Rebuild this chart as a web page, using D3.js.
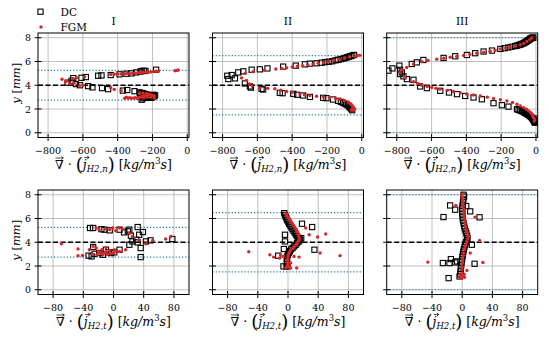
<!DOCTYPE html>
<html>
<head>
<meta charset="utf-8">
<script src="https://cdn.jsdelivr.net/npm/d3@7"></script>
<style>
  body { margin: 0; background: #fff; }
  svg { display: block; }
  text { font-family: "DejaVu Serif", "Liberation Serif", serif; fill: #000; }
</style>
</head>
<body>
<svg id="chart" width="549" height="339"></svg>
<script>
// ---- data ----
const panelTitles = ['I', 'II', 'III'];
const topTicks = [-800, -600, -400, -200, 0];
const bottomTicks = [-80, -40, 0, 40, 80];
const yTicks = [0, 2, 4, 6, 8];
const centerLine = 4;
const boundLines = [[5.25, 2.75], [6.5, 1.5], [8, 0]];

// normal component, zone I
const dcNormalI = [[-688,4.22],[-665,4.38],[-655,4.6],[-608,4.63],[-583,4.69],[-512,4.8],[-493,4.83],[-440,4.86],[-389,4.92],[-350,4.97],[-320,5.0],[-293,5.08],[-270,5.15],[-262,5.2],[-250,5.22],[-240,5.2],[-179,5.31],
  [-640,4.1],[-617,4.0],[-570,3.93],[-545,3.82],[-490,3.76],[-455,3.67],[-370,3.55],[-345,3.6],[-303,3.5],
  [-275,3.4],[-268,3.3],[-260,3.35],[-250,3.3],[-240,3.25],[-230,3.2],[-220,3.15],[-210,3.1],[-200,3.12],[-195,3.05],[-190,3.1],[-262,2.78],[-255,2.9],[-245,3.0],[-235,2.95],[-225,2.95],[-215,3.0],[-205,2.95],[-270,3.05],[-260,3.15],[-195,3.2],[-185,3.15]];
const fgmNormalI = [[-720,4.5],[-693,4.35],[-660,4.55],[-636,4.64],[-590,4.72],[-440,4.9],[-420,4.93],[-400,4.95],[-380,4.95],[-360,4.97],[-345,5.0],[-330,4.98],[-315,5.0],[-300,5.02],[-285,5.05],[-270,5.05],[-255,5.08],[-240,5.1],[-225,5.12],[-210,5.12],[-195,5.15],[-180,5.18],[-165,5.2],[-70,5.22],[-60,5.25],[-52,5.28],
  [-700,4.3],[-675,4.12],[-650,4.2],[-620,3.95],[-600,4.0],[-440,3.8],[-420,3.65],[-380,3.55],[-360,2.9],[-350,3.0],[-340,2.9],[-330,2.95],[-320,2.9],[-310,2.92],[-300,2.95],[-290,2.9],[-280,2.95],[-270,3.0],[-260,3.05],[-250,3.1],[-240,3.15],[-230,3.2],[-220,3.25],[-210,3.2],[-200,3.15],[-190,3.1],[-250,2.95],[-230,3.0],[-210,3.0],[-190,2.95],[-275,3.3],[-255,3.35],[-235,3.3]];

// normal component, zone II
const dcNormalII = [[-773,4.8],[-767,4.52],[-748,4.86],[-729,4.58],[-710,5.08],[-681,5.17],[-633,5.31],[-586,5.34],[-542,5.42],[-452,5.57],[-379,5.65],[-327,5.76],[-298,5.82],[-260,5.85],[-230,5.9],[-210,5.95],[-190,5.98],[-170,6.02],[-150,6.1],[-135,6.15],[-120,6.2],[-105,6.25],[-95,6.3],[-85,6.35],[-75,6.4],[-65,6.45],[-55,6.5],[-45,6.55],
  [-672,4.15],[-643,3.9],[-637,3.8],[-576,3.7],[-567,3.64],[-471,3.36],[-455,3.33],[-394,3.28],[-371,3.2],[-337,3.14],[-298,3.02],[-222,2.94],[-203,2.91],[-165,2.8],[-136,2.68],[-120,2.6],[-108,2.52],[-98,2.45],[-88,2.38],[-80,2.3],[-72,2.2],[-66,2.1],[-60,2.0],[-55,1.9]];
const fgmNormalII = [[-691,4.62],[-670,5.0],[-624,5.14],[-560,5.26],[-494,5.37],[-460,5.42],[-432,5.48],[-400,5.55],[-370,5.6],[-340,5.65],[-310,5.72],[-280,5.78],[-250,5.85],[-220,5.92],[-190,6.0],[-160,6.1],[-130,6.2],[-100,6.3],[-70,6.38],[-40,6.45],[-25,6.5],[-11,6.52],
  [-662,4.4],[-647,4.12],[-630,3.95],[-586,3.76],[-540,3.74],[-500,3.7],[-465,3.58],[-432,3.47],[-400,3.4],[-356,3.27],[-330,3.2],[-298,3.13],[-260,3.08],[-222,3.02],[-184,2.92],[-150,2.86],[-126,2.82],[-100,2.72],[-78,2.6],[-65,2.45],[-59,2.35],[-52,2.2],[-48,2.1],[-42,1.98],[-50,1.9],[-60,1.92]];

// normal component, zone III
const dcNormalIII = [[-848,5.23],[-825,5.42],[-785,5.65],[-781,5.3],[-771,5.08],[-714,5.79],[-685,5.93],[-647,6.13],[-531,6.3],[-464,6.44],[-397,6.55],[-349,6.7],[-301,6.84],[-253,6.92],[-205,7.06],[-180,7.12],[-160,7.18],[-140,7.24],[-120,7.3],[-100,7.38],[-85,7.45],[-70,7.55],[-58,7.65],[-48,7.75],[-38,7.85],[-30,7.95],[-20,8.02],
  [-110,7.34],[-92,7.42],[-78,7.5],[-64,7.6],[-53,7.7],[-43,7.8],[-34,7.9],[-25,7.98],[-15,8.0],
  [-781,4.94],[-762,4.75],[-742,4.52],[-704,4.46],[-666,3.9],[-627,3.76],[-550,3.53],[-500,3.39],[-454,3.25],[-407,3.1],[-359,2.97],[-311,2.82],[-244,2.49],[-196,2.32],[-158,2.2],[-109,1.98],[-90,1.88],[-75,1.78],[-62,1.68],[-50,1.58],[-40,1.48],[-30,1.35],[-22,1.22],[-15,1.1],[-10,0.98],[-6,0.88],
  [-100,1.92],[-82,1.82],[-68,1.72],[-56,1.62],[-45,1.52],[-35,1.42],[-26,1.3],[-18,1.16],[-12,1.04],[-8,0.93],[-5,0.85],[-4,1.0],[-3,1.2]];
const fgmNormalIII = [[-771,5.3],[-743,5.5],[-704,5.79],[-656,5.99],[-620,6.08],[-570,6.2],[-530,6.28],[-493,6.36],[-455,6.43],[-416,6.5],[-380,6.6],[-340,6.7],[-300,6.78],[-263,6.86],[-235,6.95],[-205,7.06],[-175,7.13],[-148,7.2],[-120,7.3],[-90,7.4],[-70,7.52],[-52,7.68],[-35,7.85],[-23,8.0],
  [-781,5.08],[-752,4.66],[-704,4.29],[-680,4.15],[-656,4.0],[-625,3.9],[-599,3.81],[-575,3.74],[-551,3.67],[-510,3.57],[-474,3.47],[-435,3.36],[-397,3.25],[-360,3.18],[-320,3.1],[-280,3.0],[-244,2.88],[-205,2.78],[-167,2.68],[-135,2.55],[-109,2.4],[-90,2.26],[-71,2.12],[-55,1.98],[-42,1.84],[-32,1.7],[-23,1.55],[-18,1.4],[-13,1.27],[-8,1.1],[-10,0.99]];

// tangential component, zone I
const dcTangI = [[-31,5.2],[-27,5.2],[-16,5.1],[-12,5.06],[-5,5.0],[8,5.06],[14,4.83],[19,4.92],[21,5.06],[32,5.28],[34,4.63],[39,4.86],[23,4.55],[30,4.21],[25,4.07],[32,3.99],[43,4.07],[49,4.16],[78,4.27],[36,3.51],[36,2.75],[21,3.79],[8,3.37],
  [-33,2.87],[-29,2.81],[-25,3.03],[-19,3.09],[-10,3.37],[-7,3.15],[-3,3.09],[1,3.15],[-14,2.95],[-27,3.6]];
const fgmTangI = [[-69,3.88],[-47,3.43],[-47,2.87],[-41,2.89],[-32,3.37],[-27,3.65],[-23,3.51],[-19,3.09],[-14,2.95],[-10,3.23],[-5,3.31],[1,3.37],[8,3.23],[16,3.37],
  [-23,5.2],[-10,5.11],[3,4.97],[-1,5.2],[12,5.11],[21,4.78],[25,4.49],[34,4.16],[43,3.88],[52,4.16],[69,4.27],[76,4.49],[-5,5.06],[8,5.2],[-19,5.06],
  [-28,3.0],[-22,2.95],[-16,3.05],[-12,3.1],[-8,3.0],[-4,3.05],[0,3.1],[4,3.2],[-20,3.25],[-15,3.4],[-10,3.55]];

// tangential component, zone II
const dcTangII = [[-5,6.45],[-4,6.3],[-3,6.15],[-2,6.0],[-1,5.85],[0.5,5.7],[1.5,5.55],[3,5.4],[4.5,5.25],[6,5.1],[7.5,4.95],[9,4.8],[10.5,4.65],[12,4.5],[13.5,4.38],[15,4.28],[16,4.18],[14,4.05],[12,3.92],[10,3.78],[8,3.65],[6,3.52],[4,3.4],[2.5,3.25],[1,3.1],[0,2.95],[-1,2.8],[-1.5,2.6],[-1.5,2.4],[-1,2.2],[-1,2.0],[-2,1.95],[-6,1.97],
  [-4,4.07],[-4,4.63],[-5.5,3.43],[-13,2.87],[18.5,5.56],[32,5.28],[35,3.37],[17.5,4.35]];
const fgmTangII = [[-3,6.45],[-2,6.32],[-1,6.18],[0.5,6.05],[2,5.9],[3.5,5.75],[5,5.62],[6.5,5.48],[8,5.34],[9.5,5.2],[11,5.06],[12,4.92],[13,4.78],[14,4.64],[14.5,4.49],[15,4.33],[14.5,4.16],[13,4.02],[11.5,3.88],[10,3.74],[8,3.6],[6,3.48],[4,3.37],[2.5,3.23],[1.5,3.09],[0.5,2.9],[0,2.7],[-0.5,2.5],[-1,2.3],[-0.5,2.1],[0,1.97],[2,1.9],[3.5,1.83],
  [-3,1.83],[11.5,1.83],[3.5,2.25],[8,2.81],[14.6,2.75],[-52,3.2],[-24,2.95],[-19,2.75],[-10,2.95],[-11,2.67],[-6,2.81],[23.5,5.2],[28,4.63],[39,4.44],[50,4.69],[42.5,3.09],[69,2.87]];

// tangential component, zone III
const dcTangIII = [[1.8,8.0],[2.5,7.85],[1.5,7.6],[1,7.35],[0.5,7.1],[0,6.85],[0,6.6],[0.3,6.35],[0.6,6.1],[1,5.85],[1.8,5.6],[2.7,5.35],[3.5,5.15],[4.5,4.95],[5.5,4.75],[6.5,4.55],[7,4.35],[6.2,4.2],[5,4.0],[4,3.8],[3,3.6],[2.2,3.4],[1.5,3.2],[0.9,3.0],[0.4,2.8],[-0.2,2.55],[-0.8,2.3],[-1.3,2.05],[-1.8,1.8],[-2.2,1.55],[-2.6,1.3],[-3.5,1.12],
  [-16,7.1],[-9.3,6.74],[5.3,7.05],[10.6,6.6],[-24.8,6.12],[23,6.1],[12.8,3.79],[-25.6,2.25],[-16.8,2.25],[-15,2.58],[-7,2.39],[-9.3,2.3],[16.4,2.19],[-18,0.98]];
const fgmTangIII = [[-0.4,8.0],[0,7.8],[0.5,7.55],[1,7.3],[1.5,7.05],[2,6.8],[2.5,6.55],[2.7,6.3],[3,6.05],[3.5,5.8],[4,5.55],[4.7,5.3],[5.3,5.06],[6.2,4.85],[7.2,4.65],[8.4,4.49],[7.5,4.28],[6.2,4.07],[5,3.85],[4,3.65],[3,3.4],[1.8,3.1],[1.2,2.85],[0.6,2.55],[0.4,2.25],[0,1.95],[-0.4,1.7],[-0.4,1.4],[-0.5,1.15],[-0.4,0.98],[-3,1.0],[3,1.05],[-2.5,1.25],[2.5,1.3],
  [-8.4,7.1],[17,6.12],[23,4.16],[10.6,3.09],[-45.5,2.33],[27.4,2.3],[6.2,1.63]];

// ---- layout ----
const svg = d3.select('#chart');
const colX = [38, 212.5, 386.7];
const rowY = [33, 190];
const pw = 151, ph = 104.5;
const red = '#d62728', blue = '#1f77b4';
const tickFont = '9.5px';

const panels = [
  {col: 0, row: 0, dc: dcNormalI,   fgm: fgmNormalI},
  {col: 1, row: 0, dc: dcNormalII,  fgm: fgmNormalII},
  {col: 2, row: 0, dc: dcNormalIII, fgm: fgmNormalIII},
  {col: 0, row: 1, dc: dcTangI,     fgm: fgmTangI},
  {col: 1, row: 1, dc: dcTangII,    fgm: fgmTangII},
  {col: 2, row: 1, dc: dcTangIII,   fgm: fgmTangIII}
];

function squareAt(sel, x, y) {
  sel.append('rect')
    .attr('x', x - 2.6).attr('y', y - 2.6)
    .attr('width', 5.2).attr('height', 5.2)
    .attr('fill', 'none').attr('stroke', '#000').attr('stroke-width', 1.1);
}

function arrowOver(g, x0, x1, y) {
  g.append('path')
    .attr('d', `M${x0},${y}H${x1}M${x1 - 2},${y - 1.5}L${x1},${y}L${x1 - 2},${y + 1.5}`)
    .attr('fill', 'none').attr('stroke', '#000').attr('stroke-width', 0.7);
}

// x label: ∇ · ( j_{H2,n} ) [kg/m^3 s], arrows drawn over ∇ and j
function xLabel(cx, y, sub) {
  const t = svg.append('text').attr('x', cx).attr('y', y)
    .attr('text-anchor', 'middle').style('font-size', '12.5px').attr('fill', '#000');
  t.append('tspan').text('∇ · ');
  t.append('tspan').style('font-size', '18px').attr('dy', 2).text('(');
  t.append('tspan').style('font-style', 'italic').attr('dy', -2).text('j');
  t.append('tspan').style('font-style', 'italic').style('font-size', '8.5px').attr('dy', 2.5).text('H2,' + sub);
  t.append('tspan').style('font-size', '18px').attr('dy', -0.5).text(')');
  t.append('tspan').attr('dy', -2).text('  [');
  t.append('tspan').style('font-style', 'italic').text('kg/m');
  t.append('tspan').style('font-size', '8.5px').attr('dy', -5).text('3');
  t.append('tspan').style('font-style', 'italic').attr('dy', 5).text('s');
  t.append('tspan').text(']');
  const node = t.node();
  const nb = node.getExtentOfChar(0);
  arrowOver(svg, nb.x + 0.5, nb.x + nb.width - 0.5, y - 11);
  const jb = node.getExtentOfChar(5);
  arrowOver(svg, jb.x + 1.5, jb.x + jb.width + 2.5, y - 11.5);
}

panels.forEach(p => {
  const x0 = colX[p.col], y0 = rowY[p.row];
  const x = d3.scaleLinear()
    .domain(p.row === 0 ? [-858, 10] : [-100, 100])
    .range([x0, x0 + pw]);
  const y = d3.scaleLinear().domain([-0.4, 8.4]).range([y0 + ph, y0]);
  const xt = p.row === 0 ? topTicks : bottomTicks;
  const g = svg.append('g');

  // grid
  g.selectAll('.gx').data(xt).join('line')
    .attr('x1', d => x(d)).attr('x2', d => x(d))
    .attr('y1', y0).attr('y2', y0 + ph)
    .attr('stroke', '#b0b0b0').attr('stroke-width', 0.8);
  g.selectAll('.gy').data(yTicks).join('line')
    .attr('x1', x0).attr('x2', x0 + pw)
    .attr('y1', d => y(d)).attr('y2', d => y(d))
    .attr('stroke', '#b0b0b0').attr('stroke-width', 0.8);

  // reference lines
  boundLines[p.col].forEach(v => {
    g.append('line').attr('x1', x0).attr('x2', x0 + pw)
      .attr('y1', y(v)).attr('y2', y(v))
      .attr('stroke', blue).attr('stroke-width', 1.2).attr('stroke-dasharray', '1.2,2');
  });
  g.append('line').attr('x1', x0).attr('x2', x0 + pw)
    .attr('y1', y(centerLine)).attr('y2', y(centerLine))
    .attr('stroke', '#000').attr('stroke-width', 1.3).attr('stroke-dasharray', '5,2.5');

  // markers
  const clip = 'clip' + p.col + p.row;
  svg.append('clipPath').attr('id', clip).append('rect')
    .attr('x', x0).attr('y', y0).attr('width', pw).attr('height', ph);
  const m = g.append('g').attr('clip-path', `url(#${clip})`);
  p.dc.forEach(d => squareAt(m, x(d[0]), y(d[1])));
  m.selectAll('circle').data(p.fgm).join('circle')
    .attr('cx', d => x(d[0])).attr('cy', d => y(d[1]))
    .attr('r', 1.7).attr('fill', red);

  // frame and ticks
  g.append('rect').attr('x', x0).attr('y', y0).attr('width', pw).attr('height', ph)
    .attr('fill', 'none').attr('stroke', '#000').attr('stroke-width', 1);
  g.selectAll('.tx').data(xt).join('line')
    .attr('x1', d => x(d)).attr('x2', d => x(d))
    .attr('y1', y0 + ph - 3.5).attr('y2', y0 + ph + 3.5)
    .attr('stroke', '#000').attr('stroke-width', 1);
  g.selectAll('.ty').data(yTicks).join('line')
    .attr('x1', x0 - 3.5).attr('x2', x0 + 3.5)
    .attr('y1', d => y(d)).attr('y2', d => y(d))
    .attr('stroke', '#000').attr('stroke-width', 1);

  g.selectAll('.lx').data(xt).join('text')
    .attr('x', d => x(d)).attr('y', y0 + ph + 16)
    .attr('text-anchor', 'middle').style('font-size', tickFont).attr('fill', '#000')
    .text(d => d < 0 ? '−' + Math.abs(d) : d);
  if (p.col === 0) {
    g.selectAll('.ly').data(yTicks).join('text')
      .attr('x', x0 - 7).attr('y', d => y(d) + 3.5)
      .attr('text-anchor', 'end').style('font-size', tickFont).attr('fill', '#000')
      .text(d => d);
    const yl = g.append('text')
      .attr('transform', `translate(${x0 - 18},${y0 + ph / 2 - 2}) rotate(-90)`)
      .attr('text-anchor', 'middle').style('font-size', '11.5px').attr('fill', '#000');
    yl.append('tspan').style('font-style', 'italic').text('y');
    yl.append('tspan').text(' [');
    yl.append('tspan').style('font-style', 'italic').text('mm');
    yl.append('tspan').text(']');
  }
  if (p.row === 0) {
    svg.append('text').attr('x', x0 + pw / 2).attr('y', y0 - 8)
      .attr('text-anchor', 'middle').style('font-size', '10.5px').attr('fill', '#000')
      .text(panelTitles[p.col]);
  }
  xLabel(x0 + pw / 2, y0 + ph + 31.5, p.row === 0 ? 'n' : 't');
});

// legend
squareAt(svg, 40.5, 11.7);
svg.append('circle').attr('cx', 41).attr('cy', 27).attr('r', 1.7).attr('fill', red);
svg.append('text').attr('x', 60.5).attr('y', 16).style('font-size', '10.5px').attr('fill', '#000').text('DC');
svg.append('text').attr('x', 60.5).attr('y', 30.5).style('font-size', '10.5px').attr('fill', '#000').text('FGM');
</script>
</body>
</html>
